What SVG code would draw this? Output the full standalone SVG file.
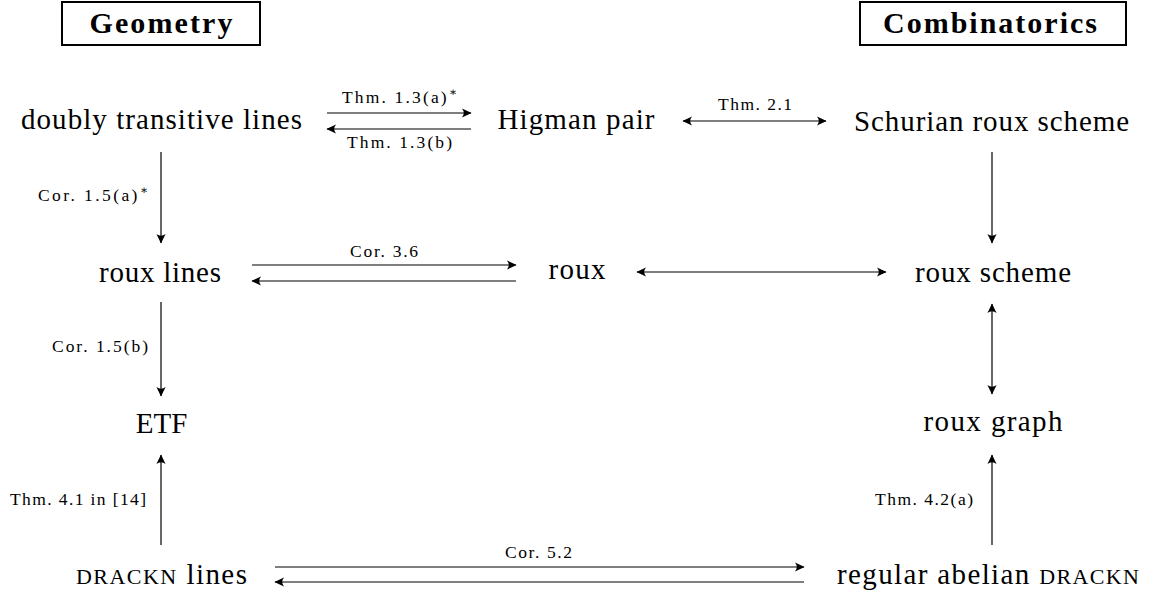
<svg xmlns="http://www.w3.org/2000/svg" width="1153" height="592" viewBox="0 0 1153 592">
<style>
.n{font-family:"Liberation Serif","DejaVu Serif",serif;font-size:29px;fill:#000;text-anchor:middle}
.h{font-family:"Liberation Serif","DejaVu Serif",serif;font-size:30px;font-weight:bold;fill:#000;text-anchor:middle}
.l{font-family:"Liberation Serif","DejaVu Serif",serif;font-size:17.5px;fill:#000}
.sc{font-size:22px}
.box{fill:none;stroke:#000;stroke-width:2}
.c line{stroke:#000;stroke-width:1.2}
.e{marker-end:url(#ah)}
.b{marker-start:url(#ahs);marker-end:url(#ah)}
</style>
<defs>
<marker id="ah" markerUnits="userSpaceOnUse" markerWidth="12" markerHeight="12" viewBox="-9 -5 10 10" refX="0" refY="0" orient="auto">
<path d="M0.5,0 L-7.5,-3.8 Q-4.5,0 -7.5,3.8 Z" fill="#000"/>
</marker>
<marker id="ahs" markerUnits="userSpaceOnUse" markerWidth="12" markerHeight="12" viewBox="-9 -5 10 10" refX="0" refY="0" orient="auto-start-reverse">
<path d="M0.5,0 L-7.5,-3.8 Q-4.5,0 -7.5,3.8 Z" fill="#000"/>
</marker>
</defs>
<g id="hdr-geometry"><rect class="box" x="62" y="2" width="198" height="43"/><text class="h" x="161" y="33" textLength="143" lengthAdjust="spacing">Geometry</text></g>
<g id="hdr-combinatorics"><rect class="box" x="860" y="2" width="266" height="43"/><text class="h" x="990" y="33" textLength="214" lengthAdjust="spacing">Combinatorics</text></g>
<g id="n-doubly"><text class="n" x="161.5" y="129" textLength="281" lengthAdjust="spacing">doubly transitive lines</text></g>
<g id="n-higman"><text class="n" x="576" y="129" textLength="157" lengthAdjust="spacing">Higman pair</text></g>
<g id="n-schurian"><text class="n" x="991.5" y="131" textLength="275" lengthAdjust="spacing">Schurian roux scheme</text></g>
<g id="n-rouxlines"><text class="n" x="160" y="282" textLength="122" lengthAdjust="spacing">roux lines</text></g>
<g id="n-roux"><text class="n" x="577" y="279" textLength="57" lengthAdjust="spacing">roux</text></g>
<g id="n-rouxscheme"><text class="n" x="993" y="282" textLength="156" lengthAdjust="spacing">roux scheme</text></g>
<g id="n-etf"><text class="n" x="161.5" y="433" font-size="30">ETF</text></g>
<g id="n-rouxgraph"><text class="n" x="993" y="431" textLength="139" lengthAdjust="spacing">roux graph</text></g>
<g id="n-dracknlines"><text class="n" x="161.5" y="584" textLength="171" lengthAdjust="spacing"><tspan class="sc">DRACKN</tspan> lines</text></g>
<g id="n-regular"><text class="n" x="988" y="584" textLength="302" lengthAdjust="spacing">regular abelian <tspan class="sc">DRACKN</tspan></text></g>
<g id="connectors" class="c">
<line class="e" x1="327" y1="113" x2="471" y2="113"/>
<line class="e" x1="471" y1="129" x2="327" y2="129"/>
<line class="b" x1="683" y1="121" x2="826" y2="121"/>
<line class="e" x1="161" y1="152" x2="161" y2="243"/>
<line class="e" x1="992" y1="152" x2="992" y2="243"/>
<line class="e" x1="252" y1="265" x2="516" y2="265"/>
<line class="e" x1="516" y1="281" x2="252" y2="281"/>
<line class="b" x1="637" y1="272" x2="886" y2="272"/>
<line class="e" x1="161" y1="302" x2="161" y2="396"/>
<line class="b" x1="992" y1="304" x2="992" y2="394"/>
<line class="e" x1="161" y1="545" x2="161" y2="455"/>
<line class="e" x1="992" y1="545" x2="992" y2="455"/>
<line class="e" x1="275" y1="567" x2="804" y2="567"/>
<line class="e" x1="804" y1="582" x2="275" y2="582"/>
</g>
<g id="labels">
<text class="l" x="342" y="103" textLength="115" lengthAdjust="spacing">Thm. 1.3(a)<tspan dy="-7" font-size="12">∗</tspan></text>
<text class="l" x="347" y="148" textLength="105" lengthAdjust="spacing">Thm. 1.3(b)</text>
<text class="l" x="718" y="110" textLength="74" lengthAdjust="spacing">Thm. 2.1</text>
<text class="l" x="38" y="201" textLength="110" lengthAdjust="spacing">Cor. 1.5(a)<tspan dy="-7" font-size="12">∗</tspan></text>
<text class="l" x="350" y="257" textLength="68" lengthAdjust="spacing">Cor. 3.6</text>
<text class="l" x="52" y="352" textLength="96" lengthAdjust="spacing">Cor. 1.5(b)</text>
<text class="l" x="10" y="505" textLength="136" lengthAdjust="spacing">Thm. 4.1 in [14]</text>
<text class="l" x="875" y="505" textLength="98" lengthAdjust="spacing">Thm. 4.2(a)</text>
<text class="l" x="505" y="558" textLength="67" lengthAdjust="spacing">Cor. 5.2</text>
</g>
</svg>
